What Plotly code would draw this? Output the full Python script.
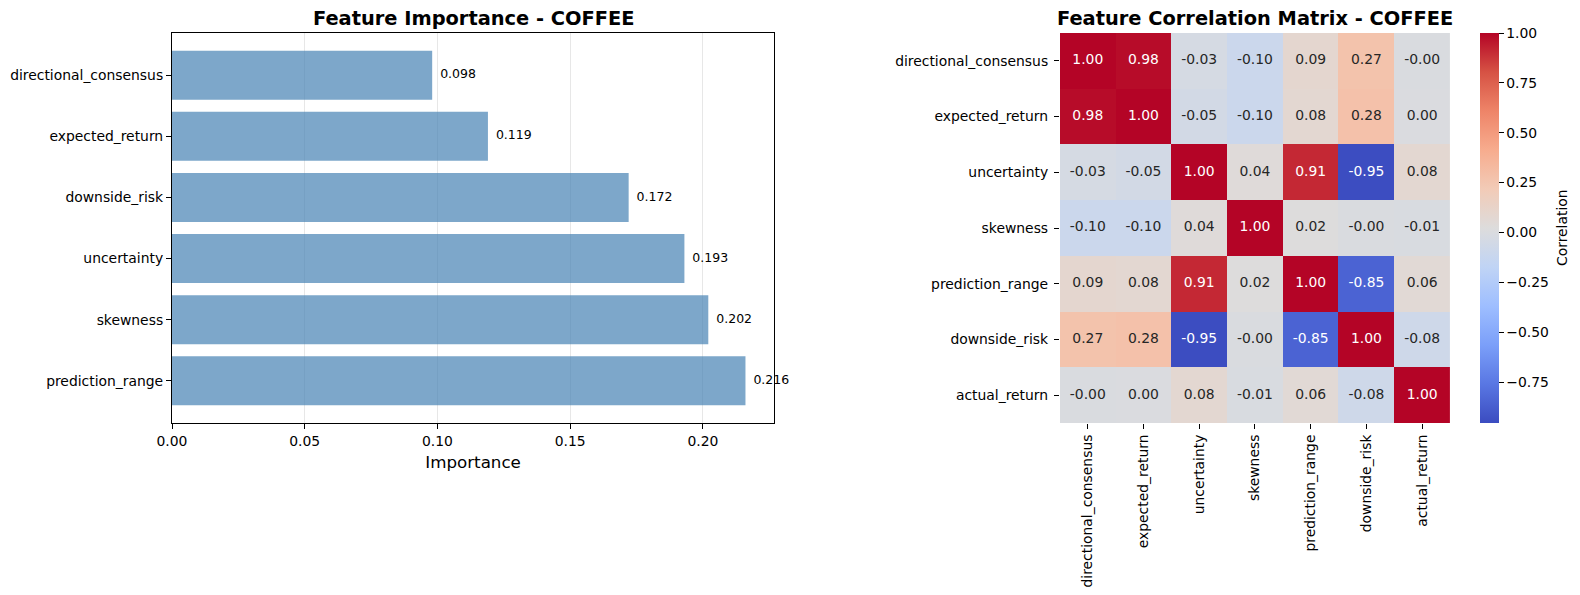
import plotly.graph_objects as go

# ---------------- data ----------------
feature_names = ["prediction_range", "skewness", "uncertainty",
                 "downside_risk", "expected_return", "directional_consensus"]
importance = [0.216, 0.202, 0.193, 0.172, 0.119, 0.098]

corr_labels = ["directional_consensus", "expected_return", "uncertainty",
               "skewness", "prediction_range", "downside_risk", "actual_return"]
corr_values = [
    [1.00, 0.98, -0.03, -0.10, 0.09, 0.27, -0.002],
    [0.98, 1.00, -0.05, -0.10, 0.08, 0.28, 0.002],
    [-0.03, -0.05, 1.00, 0.04, 0.91, -0.95, 0.08],
    [-0.10, -0.10, 0.04, 1.00, 0.02, -0.002, -0.01],
    [0.09, 0.08, 0.91, 0.02, 1.00, -0.85, 0.06],
    [0.27, 0.28, -0.95, -0.002, -0.85, 1.00, -0.08],
    [-0.002, 0.002, 0.08, -0.01, 0.06, -0.08, 1.00],
]
cbar_ticks = [1.00, 0.75, 0.50, 0.25, 0.00, -0.25, -0.50, -0.75]

# ---------------- styling ----------------
FONT = "DejaVu Sans"
W, H = 1580, 595
coolwarm_hex = ['#3b4cc0', '#5977e3', '#7b9ff9', '#9ebeff', '#c0d4f5', '#dddcdc',
                '#f2cbb7', '#f7ac8e', '#ee8468', '#d65244', '#b40426']
coolwarm = [[i / 10, c] for i, c in enumerate(coolwarm_hex)]
zmin, zmax = -0.955, 1.0


def hex2rgb(h):
    return [int(h[i:i + 2], 16) for i in (1, 3, 5)]


def cmap(v):
    t = (v - zmin) / (zmax - zmin)
    t = min(max(t, 0), 1)
    i = min(int(t * 10), 9)
    f = t * 10 - i
    a, b = hex2rgb(coolwarm_hex[i]), hex2rgb(coolwarm_hex[i + 1])
    return [a[k] + (b[k] - a[k]) * f for k in range(3)]


def lum(rgb):
    out = []
    for c in rgb:
        c = c / 255
        out.append(c / 12.92 if c <= 0.03928 else ((c + 0.055) / 1.055) ** 2.4)
    return 0.2126 * out[0] + 0.7152 * out[1] + 0.0722 * out[2]


# pixel geometry
ML, MR, MT, MB = 172.3, 130.0, 33.3, 172.0
PW = W - ML - MR
PH = H - MT - MB
lx1 = 774.3
hx0, hx1 = 1060.0, 1450.0


def px_x(p):
    return (p - ML) / PW


def px_y(p):
    return 1 - (p - MT) / PH


fig = go.Figure()

# bars
fig.add_trace(go.Bar(
    x=importance, y=feature_names, orientation="h",
    marker=dict(color="rgba(70,130,180,0.7)", line=dict(width=0)),
    xaxis="x", yaxis="y", showlegend=False, hoverinfo="x+y"))
fig.add_trace(go.Scatter(
    x=[v + 0.003 for v in importance], y=feature_names, mode="text",
    text=[f"{v:.3f}" for v in importance], textposition="middle right",
    textfont=dict(family=FONT, size=12.5, color="black"), cliponaxis=False,
    xaxis="x", yaxis="y", showlegend=False, hoverinfo="skip"))

# heatmap
fig.add_trace(go.Heatmap(
    z=corr_values, x=corr_labels, y=corr_labels,
    colorscale=coolwarm, zmin=zmin, zmax=zmax,
    xaxis="x2", yaxis="y2",
    colorbar=dict(
        x=px_x(1480), xanchor="left", y=1, yanchor="top",
        len=1, lenmode="fraction", thickness=19,
        thicknessmode="pixels", outlinewidth=0, ypad=0, xpad=0,
        tickvals=cbar_ticks,
        ticktext=[f"{t:.2f}".replace("-", "\u2212") for t in cbar_ticks],
        ticks="outside", ticklen=5, tickwidth=1.1, tickcolor="black",
        tickfont=dict(family=FONT, size=13.9, color="black"),
    ),
    hoverinfo="x+y+z"))

tx, tyv, ttxt, tcol = [], [], [], []
for i, rl in enumerate(corr_labels):
    for j, cl in enumerate(corr_labels):
        v = corr_values[i][j]
        tx.append(cl)
        tyv.append(rl)
        ttxt.append(f"{v:.2f}")
        tcol.append("#262626" if lum(cmap(v)) > 0.408 else "white")
fig.add_trace(go.Scatter(
    x=tx, y=tyv, mode="text", text=ttxt, textposition="middle center",
    textfont=dict(family=FONT, size=13.9, color=tcol),
    xaxis="x2", yaxis="y2", showlegend=False, hoverinfo="skip"))

axis_font = dict(family=FONT, size=13.9, color="black")
fig.update_layout(
    width=W, height=H, margin=dict(l=ML, r=MR, t=MT, b=MB, autoexpand=False),
    paper_bgcolor="white", plot_bgcolor="white",
    font=dict(family=FONT, color="black"),
    bargap=0.2,
    xaxis=dict(domain=[0, px_x(lx1)], anchor="y", automargin=False,
               range=[0, 0.2268], tickvals=[0, 0.05, 0.10, 0.15, 0.20],
               ticktext=["0.00", "0.05", "0.10", "0.15", "0.20"],
               showgrid=True, gridcolor="rgba(176,176,176,0.3)", gridwidth=1.1,
               zeroline=False, showline=True, mirror=True, linecolor="black",
               linewidth=1.1, ticks="outside", ticklen=5, tickwidth=1.1,
               tickcolor="black", tickfont=axis_font,
               title=dict(text="Importance", standoff=8,
                          font=dict(family=FONT, size=16.7, color="black"))),
    yaxis=dict(domain=[0, 1], anchor="x", automargin=False,
               type="category", range=[-0.69, 5.69],
               showgrid=False, zeroline=False, showline=True, mirror=True,
               linecolor="black", linewidth=1.1, ticks="outside", ticklen=5,
               tickwidth=1.1, tickcolor="black", tickfont=axis_font),
    xaxis2=dict(domain=[px_x(hx0), px_x(hx1)], anchor="y2", type="category",
                automargin=False,
                range=[-0.5, 6.5], showgrid=False, zeroline=False,
                showline=False, ticks="outside", ticklen=5, tickwidth=1.1,
                tickcolor="black", tickangle=-90, tickfont=axis_font),
    yaxis2=dict(domain=[0, 1], anchor="x2", automargin=False,
                type="category", range=[6.5, -0.5], showgrid=False,
                zeroline=False, showline=False, ticks="outside", ticklen=5,
                tickwidth=1.1, tickcolor="black", tickfont=axis_font,
                ticklabelstandoff=3),
    annotations=[
        dict(text="<b>Feature Importance - COFFEE</b>", xref="paper",
             yref="paper", x=px_x((ML + lx1) / 2), y=px_y(19),
             xanchor="center", yanchor="middle", showarrow=False,
             font=dict(family=FONT, size=19.4, color="black")),
        dict(text="<b>Feature Correlation Matrix - COFFEE</b>", xref="paper",
             yref="paper", x=px_x((hx0 + hx1) / 2), y=px_y(19),
             xanchor="center", yanchor="middle", showarrow=False,
             font=dict(family=FONT, size=19.4, color="black")),
        dict(text="Correlation", xref="paper", yref="paper",
             x=px_x(1562), y=0.5, xanchor="center", yanchor="middle",
             textangle=-90, showarrow=False,
             font=dict(family=FONT, size=13.9, color="black")),
    ],
)

fig.write_html("out.html", config={"displayModeBar": False},
               post_script="document.body.style.margin='0px';document.body.style.overflow='hidden';")
